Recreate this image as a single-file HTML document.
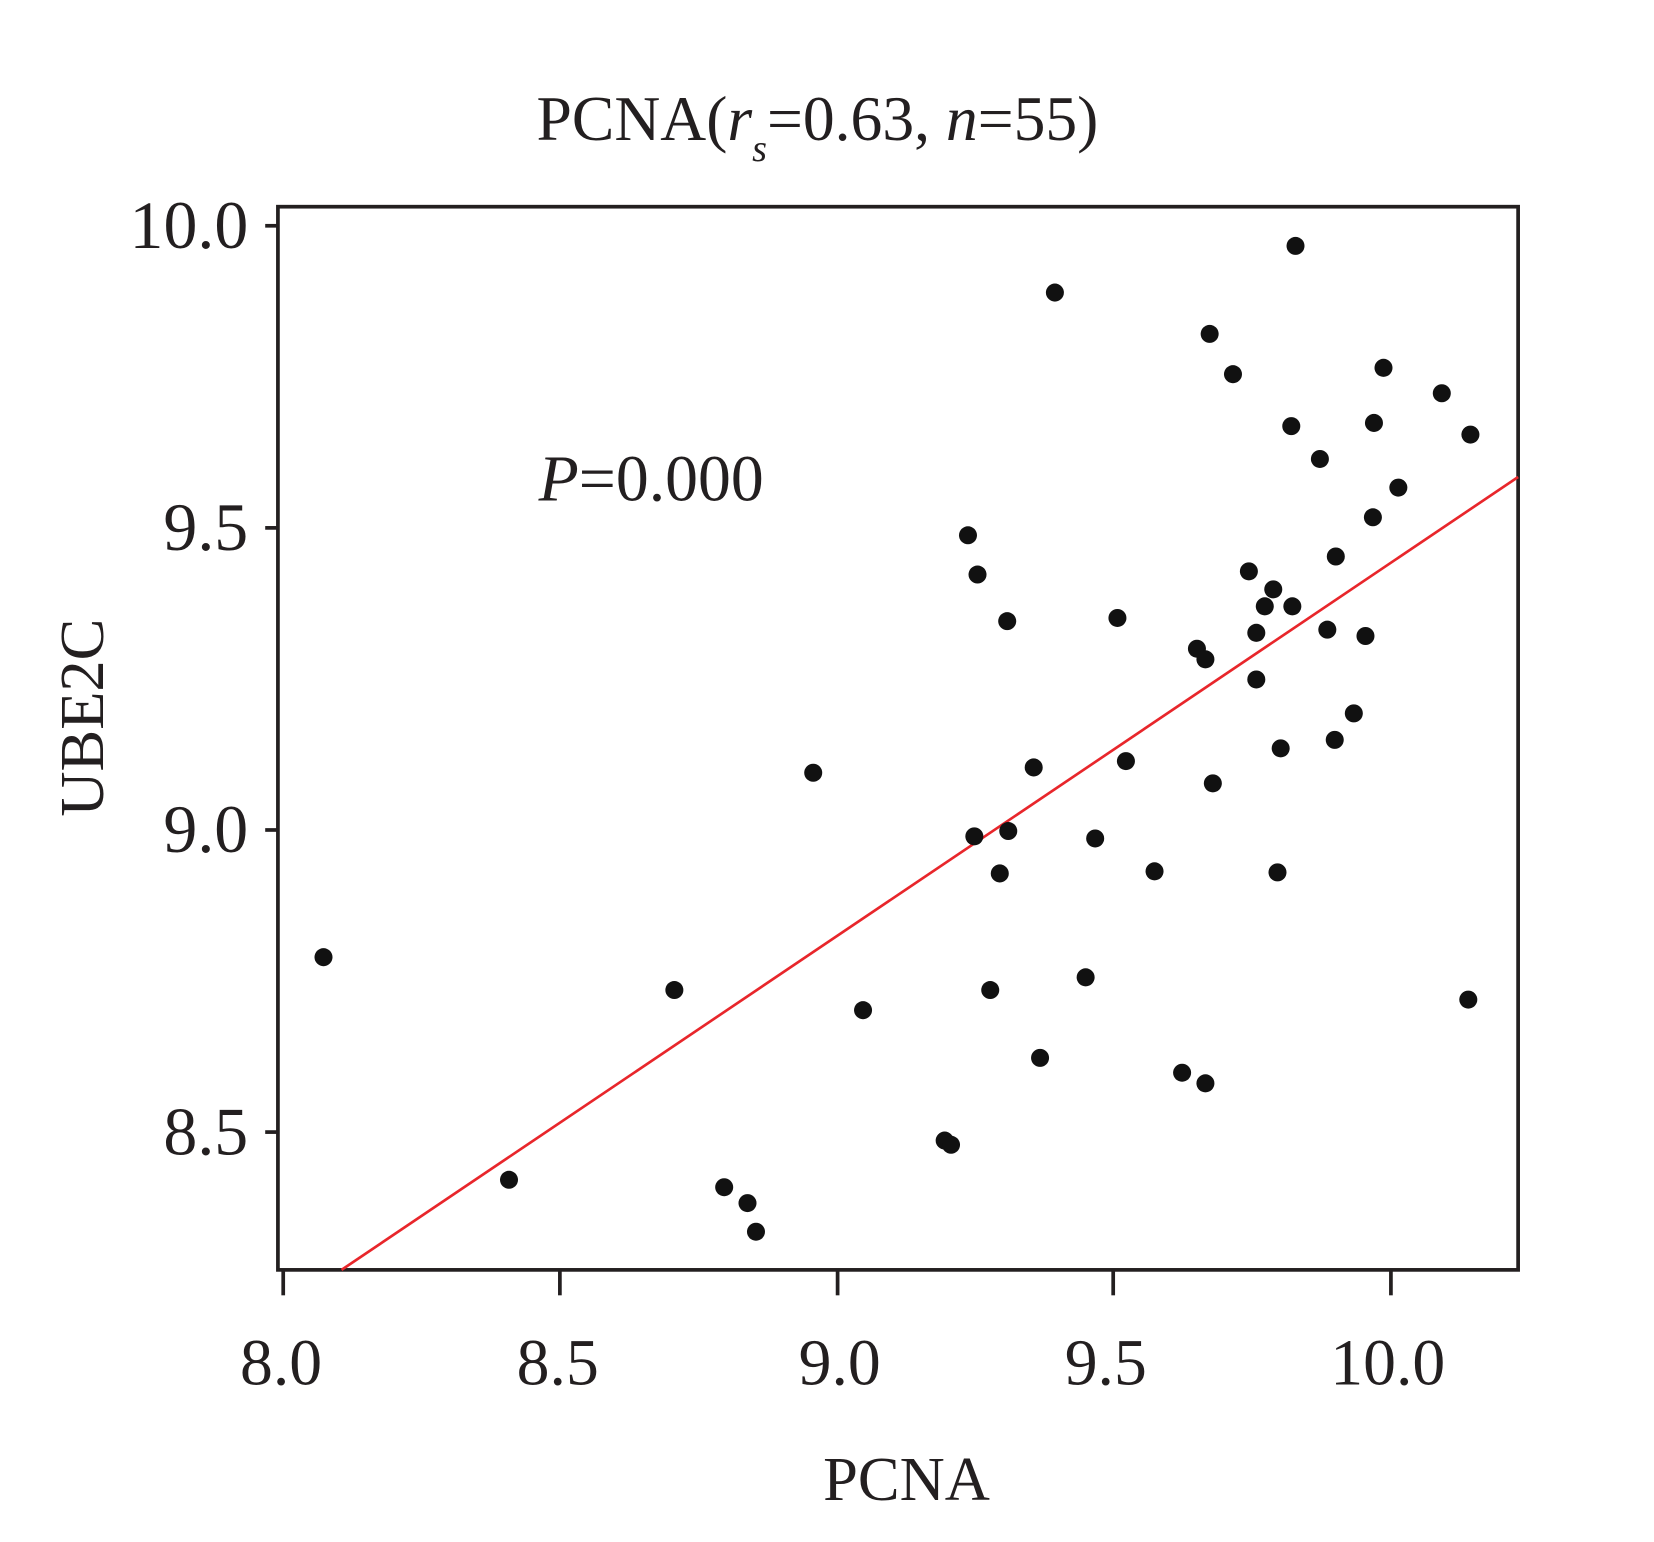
<!DOCTYPE html>
<html><head><style>html,body{margin:0;padding:0;background:#fff}</style></head>
<body>
<svg width="1654" height="1537" viewBox="0 0 1560 1450" xmlns="http://www.w3.org/2000/svg" font-family="Liberation Serif, serif" fill="#231f20">
<rect x="262" y="195" width="1170" height="1003" fill="none" stroke="#231f20" stroke-width="3.5"/>
<g stroke="#231f20" stroke-width="3.5">
<line x1="267" y1="1198" x2="267" y2="1222"/><line x1="528" y1="1198" x2="528" y2="1222"/><line x1="790" y1="1198" x2="790" y2="1222"/><line x1="1050" y1="1198" x2="1050" y2="1222"/><line x1="1312" y1="1198" x2="1312" y2="1222"/>
<line x1="250" y1="213" x2="262" y2="213"/><line x1="250" y1="498" x2="262" y2="498"/><line x1="250" y1="783" x2="262" y2="783"/><line x1="250" y1="1068" x2="262" y2="1068"/>
</g>
<g font-size="64" text-anchor="end">
<text x="234" y="234">10.0</text><text x="234" y="519">9.5</text><text x="234" y="804">9.0</text><text x="234" y="1089">8.5</text>
</g>
<g font-size="62" text-anchor="middle">
<text x="265" y="1306">8.0</text><text x="526" y="1306">8.5</text><text x="792" y="1306">9.0</text><text x="1043" y="1306">9.5</text><text x="1309" y="1306">10.0</text>
<text x="855" y="1415" font-size="59">PCNA</text>
<text transform="translate(97,677) rotate(-90)" font-size="59">UBE2C</text>
</g>
<text x="506" y="132" font-size="60">PCNA(<tspan font-style="italic">r</tspan><tspan font-style="italic" font-size="36" dy="20">s</tspan><tspan dy="-20">=0.63, </tspan><tspan font-style="italic">n</tspan>=55)</text>
<text x="508" y="472" font-size="62"><tspan font-style="italic">P</tspan>=0.000</text>
<line x1="322" y1="1198" x2="1432" y2="450" stroke="#e8262b" stroke-width="2.5"/>
<g fill="#111">
<circle cx="305" cy="903" r="8.5"/><circle cx="480" cy="1113" r="8.5"/><circle cx="636" cy="934" r="8.5"/><circle cx="683" cy="1120" r="8.5"/><circle cx="705" cy="1135" r="8.5"/><circle cx="713" cy="1162" r="8.5"/><circle cx="767" cy="729" r="8.5"/><circle cx="814" cy="953" r="8.5"/><circle cx="891" cy="1076" r="8.5"/><circle cx="897" cy="1080" r="8.5"/><circle cx="913" cy="505" r="8.5"/><circle cx="922" cy="542" r="8.5"/><circle cx="919" cy="789" r="8.5"/><circle cx="934" cy="934" r="8.5"/><circle cx="943" cy="824" r="8.5"/><circle cx="950" cy="586" r="8.5"/><circle cx="951" cy="784" r="8.5"/><circle cx="975" cy="724" r="8.5"/><circle cx="981" cy="998" r="8.5"/><circle cx="995" cy="276" r="8.5"/><circle cx="1024" cy="922" r="8.5"/><circle cx="1033" cy="791" r="8.5"/><circle cx="1054" cy="583" r="8.5"/><circle cx="1062" cy="718" r="8.5"/><circle cx="1089" cy="822" r="8.5"/><circle cx="1115" cy="1012" r="8.5"/><circle cx="1129" cy="612" r="8.5"/><circle cx="1137" cy="622" r="8.5"/><circle cx="1137" cy="1022" r="8.5"/><circle cx="1141" cy="315" r="8.5"/><circle cx="1144" cy="739" r="8.5"/><circle cx="1163" cy="353" r="8.5"/><circle cx="1178" cy="539" r="8.5"/><circle cx="1185" cy="597" r="8.5"/><circle cx="1185" cy="641" r="8.5"/><circle cx="1193" cy="572" r="8.5"/><circle cx="1201" cy="556" r="8.5"/><circle cx="1208" cy="706" r="8.5"/><circle cx="1205" cy="823" r="8.5"/><circle cx="1218" cy="402" r="8.5"/><circle cx="1219" cy="572" r="8.5"/><circle cx="1222" cy="232" r="8.5"/><circle cx="1245" cy="433" r="8.5"/><circle cx="1252" cy="594" r="8.5"/><circle cx="1260" cy="525" r="8.5"/><circle cx="1259" cy="698" r="8.5"/><circle cx="1277" cy="673" r="8.5"/><circle cx="1288" cy="600" r="8.5"/><circle cx="1295" cy="488" r="8.5"/><circle cx="1296" cy="399" r="8.5"/><circle cx="1305" cy="347" r="8.5"/><circle cx="1319" cy="460" r="8.5"/><circle cx="1360" cy="371" r="8.5"/><circle cx="1387" cy="410" r="8.5"/><circle cx="1385" cy="943" r="8.5"/>
</g>
</svg>
</body></html>
